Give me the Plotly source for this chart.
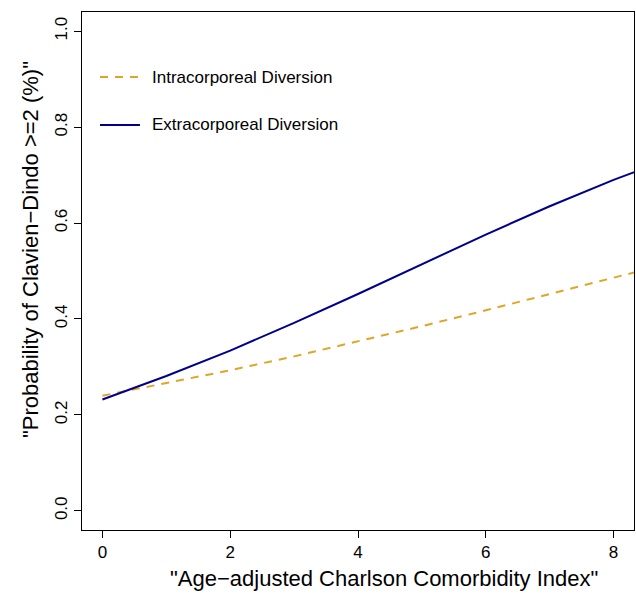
import plotly.graph_objects as go

# Data
cci = [0, 1, 2, 3, 4, 5, 6, 7, 8, 9]
intracorporeal = [0.240, 0.266, 0.293, 0.322, 0.353, 0.385, 0.418, 0.452, 0.486, 0.520]
extracorporeal = [0.232, 0.281, 0.334, 0.392, 0.452, 0.514, 0.576, 0.635, 0.690, 0.740]
x_ticks = [0, 2, 4, 6, 8]
y_ticks = [0.0, 0.2, 0.4, 0.6, 0.8, 1.0]
y_tick_labels = ["0.0", "0.2", "0.4", "0.6", "0.8", "1.0"]
x_title = "\"Age\u2212adjusted Charlson Comorbidity Index\""
y_title = "\"Probability of Clavien\u2212Dindo >=2 (%)\""

FONT = "Liberation Sans, Arial, sans-serif"
GOLD = "#E0A526"
NAVY = "#00008B"

fig = go.Figure()
fig.add_trace(go.Scatter(x=cci, y=intracorporeal, mode="lines",
                         line=dict(color=GOLD, width=2, dash="8px,7px"),
                         name="Intracorporeal Diversion", cliponaxis=True))
fig.add_trace(go.Scatter(x=cci, y=extracorporeal, mode="lines",
                         line=dict(color=NAVY, width=2),
                         name="Extracorporeal Diversion", cliponaxis=True))

# manual legend (R style, no box)
legend_items = [("Intracorporeal Diversion", GOLD, "8px,7px", 0.8745),
                ("Extracorporeal Diversion", NAVY, "solid", 0.782)]
for label, col, dash, yp in legend_items:
    fig.add_shape(type="line", xref="paper", yref="paper",
                  x0=0.0326, x1=0.105, y0=yp, y1=yp,
                  line=dict(color=col, width=2, dash=dash))
    fig.add_annotation(xref="paper", yref="paper", x=0.123, y=yp,
                       text=label, showarrow=False, xanchor="left", yanchor="middle",
                       font=dict(family=FONT, size=17, color="black"))

# axis titles (placed as in the reference)
fig.add_annotation(xref="paper", yref="paper", x=0.547, y=-0.0927, text=x_title,
                   showarrow=False, xanchor="center", yanchor="middle",
                   font=dict(family=FONT, size=22, color="black"))
fig.add_annotation(xref="paper", yref="paper", x=-0.0942, y=0.5405, text=y_title,
                   showarrow=False, xanchor="center", yanchor="middle", textangle=-90,
                   font=dict(family=FONT, size=22, color="black"))

fig.update_layout(
    width=636, height=597,
    margin=dict(l=82, r=2, t=12, b=67),
    paper_bgcolor="white", plot_bgcolor="white",
    showlegend=False,
    font=dict(family=FONT, color="black"),
)
fig.update_xaxes(range=[-0.32, 8.32], tickvals=x_ticks, ticks="outside", ticklen=7,
                 tickcolor="black", showline=True, linecolor="black", linewidth=1,
                 mirror=True, showgrid=False, zeroline=False, automargin=False,
                 tickfont=dict(family=FONT, size=17, color="black"))
fig.update_yaxes(range=[-0.04, 1.04], tickvals=y_ticks, ticktext=y_tick_labels,
                 ticks="outside", ticklen=7, tickangle=-90,
                 tickcolor="black", showline=True, linecolor="black", linewidth=1,
                 mirror=True, showgrid=False, zeroline=False, automargin=False,
                 tickfont=dict(family=FONT, size=17, color="black"))

fig.write_html("out.html", config={"displayModeBar": False},
               post_script="document.body.style.margin='0';document.body.style.overflow='hidden';")
